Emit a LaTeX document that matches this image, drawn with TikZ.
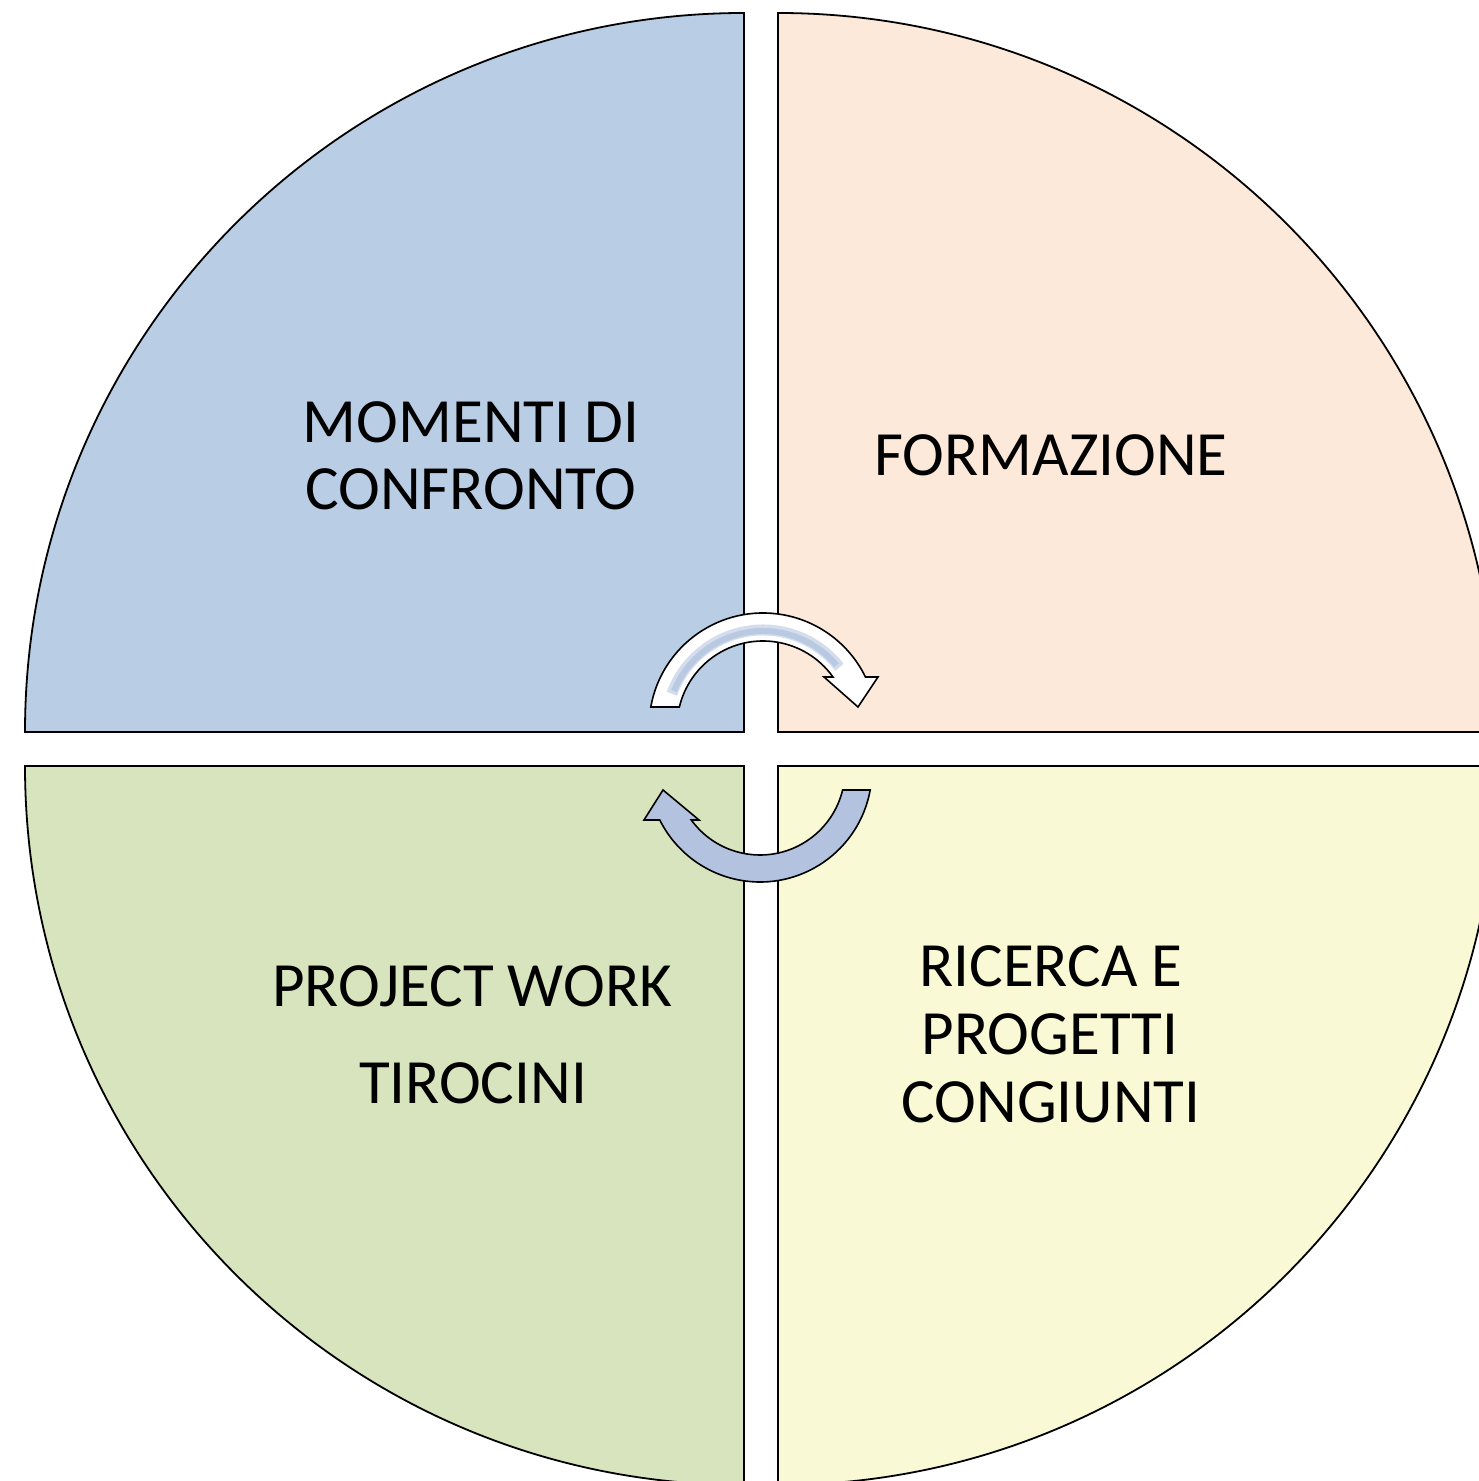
\documentclass[tikz,border=0pt]{standalone}
\usepackage{fontspec}
\setmainfont{Carlito}
\definecolor{qblue}{HTML}{B9CDE5}
\definecolor{qpeach}{HTML}{FDE9D9}
\definecolor{qgreen}{HTML}{D7E4BD}
\definecolor{qyellow}{HTML}{F9FAD5}
\definecolor{arrowblue}{HTML}{B3C3DF}
\definecolor{glossblue}{HTML}{B8C7E1}
\tikzset{
  quad/.style={draw=black, line width=1.8pt, line join=miter},
  arrowshape/.style={draw=black, line width=1.6pt, line join=miter},
  lbl/.style={anchor=base, inner sep=0pt, font=\fontsize{63}{68}\selectfont},
}
\begin{document}
\begin{tikzpicture}[x=1pt,y=1pt]
\useasboundingbox (0,0) rectangle (1479,1481);
\fill[white] (0,0) rectangle (1479,1481);
\clip (0,0) rectangle (1479,1481);
% quadrant corners
\coordinate (ctl) at (744,749);
\coordinate (ctr) at (778,749);
\coordinate (cbl) at (744,715);
\coordinate (cbr) at (778,715);
% shadows
\foreach \s/\o in {4/0.06,2/0.10}{
  \fill[black, opacity=\o, shift={(\s,-\s)}] (ctl) -- ++(-719,0) arc[start angle=180, end angle=90, radius=719] -- cycle;
  \fill[black, opacity=\o, shift={(\s,-\s)}] (ctr) -- ++(0,719) arc[start angle=90, end angle=0, radius=719] -- cycle;
  \fill[black, opacity=\o, shift={(\s,-\s)}] (cbl) -- ++(-719,0) arc[start angle=180, end angle=270, radius=719] -- cycle;
  \fill[black, opacity=\o, shift={(\s,-\s)}] (cbr) -- ++(719,0) arc[start angle=0, end angle=-90, radius=719] -- cycle;
}
% quadrants
\draw[quad, fill=qblue] (ctl) -- ++(-719,0) arc[start angle=180, end angle=90, radius=719] -- cycle;
\draw[quad, fill=qpeach] (ctr) -- ++(0,719) arc[start angle=90, end angle=0, radius=719] -- cycle;
\draw[quad, fill=qgreen] (cbl) -- ++(-719,0) arc[start angle=180, end angle=270, radius=719] -- cycle;
\draw[quad, fill=qyellow] (cbr) -- ++(719,0) arc[start angle=0, end angle=-90, radius=719] -- cycle;

% labels
\node[lbl] (m1) at (471,1038) {MOMENTI DI};
\node[lbl] (m2) at (471,971) {CONFRONTO};
\node[lbl] (f1) at (1051,1005) {FORMAZIONE};
\node[lbl] (p1) at (472,474) {PROJECT WORK};
\node[lbl] (p2) at (473,377) {TIROCINI};
\node[lbl] (r1) at (1051,494) {RICERCA E};
\node[lbl] (r2) at (1050,426) {PROGETTI};
\node[lbl] (r3) at (1051,358) {CONGIUNTI};

% top arrow (white, glossy)
\coordinate (tc) at (763,754);
\coordinate (tb1) at (878,804);
\coordinate (ttip) at (858,774);
\coordinate (tb2) at (824,804);
\fill[black, opacity=0.12, shift={(3,-3)}] ([shift={(169.9:114)}]tc) arc[start angle=169.9, end angle=26.0, radius=114] -- (tb1) -- (ttip) -- (tb2) -- ([shift={(35.55:86)}]tc) arc[start angle=35.55, end angle=166.55, radius=86] -- cycle;
\fill[white] ([shift={(169.9:114)}]tc) arc[start angle=169.9, end angle=26.0, radius=114] -- (tb1) -- (ttip) -- (tb2) -- ([shift={(35.55:86)}]tc) arc[start angle=35.55, end angle=166.55, radius=86] -- cycle;
\draw[glossblue, line width=11pt, opacity=0.6] ([shift={(160:97)}]tc) arc[start angle=160, end angle=38, radius=97];
\draw[glossblue, line width=6pt, opacity=0.9] ([shift={(158:96)}]tc) arc[start angle=158, end angle=40, radius=96];
\draw[arrowshape] ([shift={(169.9:114)}]tc) arc[start angle=169.9, end angle=26.0, radius=114] -- (tb1) -- (ttip) -- (tb2) -- ([shift={(35.55:86)}]tc) arc[start angle=35.55, end angle=166.55, radius=86] -- cycle;

% bottom arrow (blue)
\coordinate (bc) at (760,711);
\coordinate (bb1) at (644,661);
\coordinate (btip) at (663,691);
\coordinate (bb2) at (699,661);
\fill[black, opacity=0.12, shift={(3,-3)}] ([shift={(-10.29:112)}]bc) arc[start angle=-10.29, end angle=-153.5, radius=112] -- (bb1) -- (btip) -- (bb2) -- ([shift={(-143.97:85)}]bc) arc[start angle=-143.97, end angle=-13.61, radius=85] -- cycle;
\draw[arrowshape, fill=arrowblue] ([shift={(-10.29:112)}]bc) arc[start angle=-10.29, end angle=-153.5, radius=112] -- (bb1) -- (btip) -- (bb2) -- ([shift={(-143.97:85)}]bc) arc[start angle=-143.97, end angle=-13.61, radius=85] -- cycle;
\end{tikzpicture}
\end{document}
